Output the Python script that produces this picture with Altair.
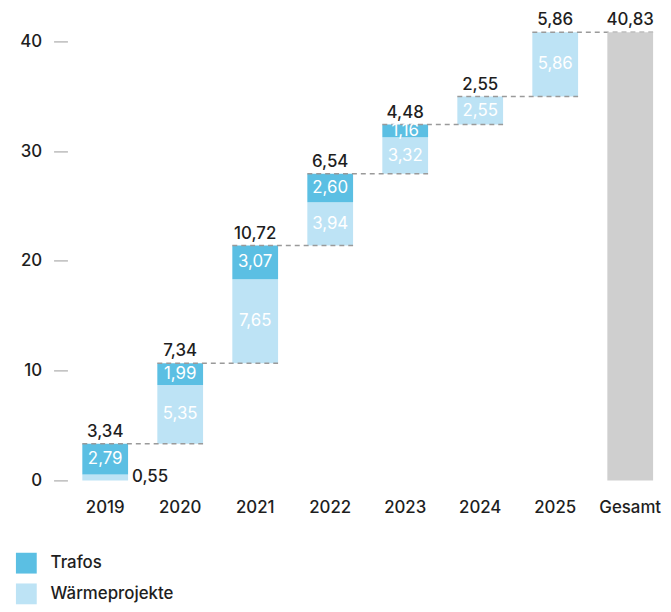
import altair as alt
import pandas as pd

years = ["2019", "2020", "2021", "2022", "2023", "2024", "2025"]
waerme = [0.55, 5.35, 7.65, 3.94, 3.32, 2.55, 5.86]
trafos = [2.79, 1.99, 3.07, 2.60, 1.16, 0.0, 0.0]
gesamt_label = "Gesamt"
gesamt_value = 40.83
series_names = ["Trafos", "Wärmeprojekte"]
series_colors = ["#5bbfe3", "#bde3f5"]
categories = years + [gesamt_label]
y_ticks = [0, 10, 20, 30, 40]

FONT = "Inter"
DARK = "#1e1e1e"
FS = 17


def fmt(v):
    return f"{v:.2f}".replace(".", ",")


seg_rows, tot_rows, rule_rows = [], [], []
base = 0.0
for i, yr in enumerate(years):
    w, t = waerme[i], trafos[i]
    seg_rows.append(dict(cat=yr, series="Wärmeprojekte", y0=base, y1=base + w,
                         mid=base + w / 2, lab=fmt(w), val=w))
    if t > 0:
        seg_rows.append(dict(cat=yr, series="Trafos", y0=base + w, y1=base + w + t,
                             mid=base + w + t / 2, lab=fmt(t), val=t))
    top = base + w + t
    tot_rows.append(dict(cat=yr, top=top, lab=fmt(w + t)))
    rule_rows.append(dict(cat=yr, nxt=categories[i + 1], lvl=top))
    base = top
tot_rows.append(dict(cat=gesamt_label, top=gesamt_value, lab=fmt(gesamt_value)))

seg = pd.DataFrame(seg_rows)
tot = pd.DataFrame(tot_rows)
rules = pd.DataFrame(rule_rows)
gdf = pd.DataFrame([dict(cat=gesamt_label, y0=0.0, y1=gesamt_value)])

xscale = alt.Scale(domain=categories, paddingInner=0.39, paddingOuter=0)
yscale = alt.Scale(domain=[0, 40.9], nice=False)

x_enc = alt.X("cat:N", scale=xscale,
              axis=alt.Axis(title=None, domain=False, ticks=False, labelAngle=0,
                            labelPadding=19, labelFontSize=FS, labelColor=DARK,
                            labelFont=FONT, labelFontWeight=500))
y_enc = alt.Y("y0:Q", scale=yscale,
              axis=alt.Axis(title=None, domain=False, grid=False, values=y_ticks,
                            tickSize=14, tickColor="#9a9a9a", tickWidth=1,
                            offset=15, labelPadding=12, labelFontSize=FS,
                            labelColor=DARK, labelFont=FONT, labelFontWeight=500))

bars = alt.Chart(seg).mark_bar().encode(
    x=x_enc,
    y=y_enc,
    y2="y1:Q",
    color=alt.Color("series:N",
                    scale=alt.Scale(domain=series_names, range=series_colors),
                    legend=alt.Legend(title=None, orient="none", legendX=-67, legendY=526,
                                      symbolType="square", symbolSize=441,
                                      symbolStrokeWidth=0, symbolOpacity=1,
                                      rowPadding=10, labelFontSize=FS,
                                      labelFont=FONT, labelColor=DARK,
                                      labelFontWeight=500, labelOffset=14)),
)

rule = alt.Chart(rules).mark_rule(strokeDash=[5, 4], color="#9a9a9a", strokeWidth=1.5).encode(
    x=alt.X("cat:N", scale=xscale, bandPosition=0),
    x2=alt.X2("nxt:N", bandPosition=1),
    y=alt.Y("lvl:Q", scale=yscale),
)

gbar = alt.Chart(gdf).mark_bar(color="#cfcfcf").encode(
    x=alt.X("cat:N", scale=xscale),
    y=alt.Y("y0:Q", scale=yscale),
    y2="y1:Q",
)

inside = alt.Chart(seg).transform_filter("datum.val >= 1").mark_text(
    color="white", fontSize=FS, font=FONT, baseline="middle"
).encode(
    x=alt.X("cat:N", scale=xscale),
    y=alt.Y("mid:Q", scale=yscale),
    text="lab:N",
)

small = alt.Chart(seg).transform_filter("datum.val < 1").mark_text(
    color=DARK, fontSize=FS, font=FONT, fontWeight=500, baseline="middle", align="left", dx=4
).encode(
    x=alt.X("cat:N", scale=xscale, bandPosition=1),
    y=alt.Y("mid:Q", scale=yscale),
    text="lab:N",
)

totals = alt.Chart(tot).mark_text(
    color=DARK, fontSize=FS, font=FONT, fontWeight=500, baseline="alphabetic", dy=-7
).encode(
    x=alt.X("cat:N", scale=xscale),
    y=alt.Y("top:Q", scale=yscale),
    text="lab:N",
)

chart = alt.layer(bars, rule, gbar, inside, small, totals).properties(
    width=576, height=453,
    autosize=alt.AutoSizeParams(type="none"),
    padding={"left": 75, "top": 21, "right": 10, "bottom": 125},
).configure(font=FONT).configure_view(strokeWidth=0)

chart.save("out.html", embed_options={"renderer": "svg", "actions": False})
